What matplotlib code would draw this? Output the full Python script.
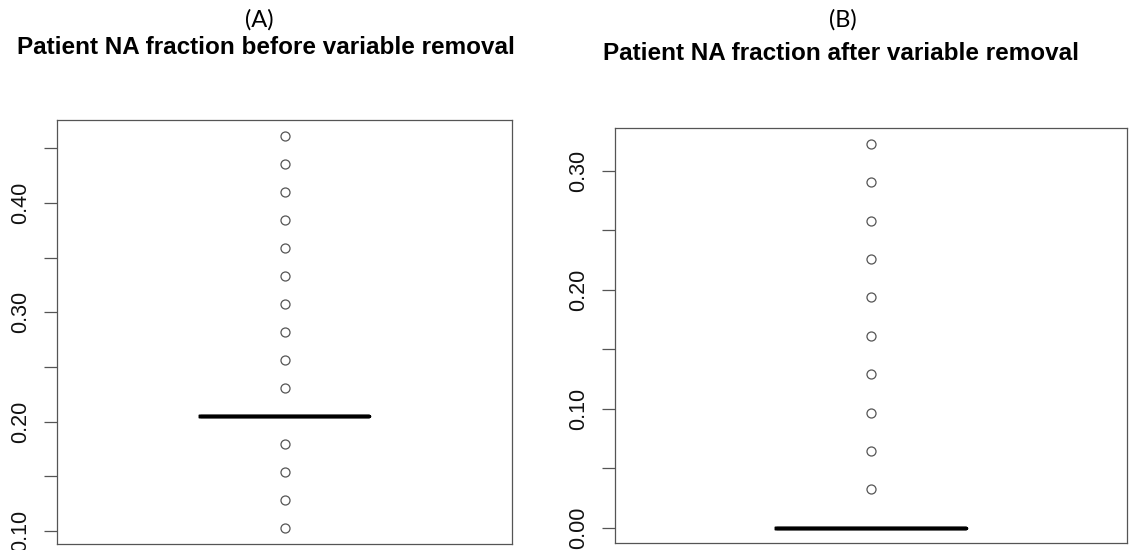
import numpy as np
import matplotlib
matplotlib.use("Agg")
from matplotlib import pyplot as plt

# NA fraction per patient, before removing sparse variables
before_median = 0.2051
before_outliers = [0.4615, 0.4359, 0.4103, 0.3846, 0.3590, 0.3333, 0.3077,
                   0.2821, 0.2564, 0.2308, 0.1795, 0.1538, 0.1282, 0.1026]
before_ticks = [0.10, 0.15, 0.20, 0.25, 0.30, 0.35, 0.40, 0.45]

# NA fraction per patient, after removing sparse variables
after_median = 0.0
after_outliers = [0.3226, 0.2903, 0.2581, 0.2258, 0.1935, 0.1613, 0.1290,
                  0.0968, 0.0645, 0.0323]
after_ticks = [0.00, 0.05, 0.10, 0.15, 0.20, 0.25, 0.30]

panels = ["(A)", "(B)"]
titles = ["Patient NA fraction before variable removal",
          "Patient NA fraction after variable removal"]

plt.rcParams['font.family'] = ['Liberation Sans', 'DejaVu Sans']

fig = plt.figure(figsize=(11.29, 5.5), dpi=100)
ax1 = fig.add_axes([0.0505, 0.0109, 0.403, 0.7709])
ax2 = fig.add_axes([0.545, 0.0122, 0.453, 0.7545])

def draw_box(ax, med, outliers, ticks):
    # box collapses onto the median: every other patient is a flier
    stats = [dict(med=med, q1=med, q3=med, whislo=med, whishi=med,
                  fliers=outliers)]
    ax.bxp(stats, positions=[1], widths=0.4, showcaps=False,
           boxprops=dict(color='black', linewidth=2.5),
           whiskerprops=dict(color='black', linewidth=2.5),
           medianprops=dict(color='black', linewidth=2.5, solid_capstyle='butt'),
           flierprops=dict(marker='o', markerfacecolor='none',
                           markeredgecolor='#555555', markersize=6.5,
                           markeredgewidth=0.9))
    vals = list(outliers) + [med]
    lo, hi = min(vals), max(vals)
    pad = (hi - lo) * 0.04
    ax.set_ylim(lo - pad, hi + pad)
    ax.set_xlim(0.46, 1.54)
    ax.set_xticks([])
    ax.set_yticks(ticks)
    ax.set_yticklabels(["%.2f" % t if round(t * 100) % 10 == 0 else ""
                        for t in ticks], rotation=90, va='center')
    ax.tick_params(axis='y', length=9.5, width=0.9, color='#555555',
                   labelsize=15.5, labelcolor='#111111', pad=9)
    for s in ax.spines.values():
        s.set_color('#555555')
        s.set_linewidth(0.9)

draw_box(ax1, before_median, before_outliers, before_ticks)
draw_box(ax2, after_median, after_outliers, after_ticks)

fig.text(259 / 1129, 1 - 20 / 550, panels[0], ha='center', va='center',
         fontsize=17, family=['Lato', 'DejaVu Sans'])
fig.text(843 / 1129, 1 - 20 / 550, panels[1], ha='center', va='center',
         fontsize=17, family=['Lato', 'DejaVu Sans'])
fig.text(266 / 1129, 1 - 54 / 550, titles[0], ha='center', va='baseline',
         fontsize=17.5, fontweight='bold')
fig.text(841 / 1129, 1 - 60 / 550, titles[1], ha='center', va='baseline',
         fontsize=17.5, fontweight='bold')

fig.savefig("out.png", dpi=100)
